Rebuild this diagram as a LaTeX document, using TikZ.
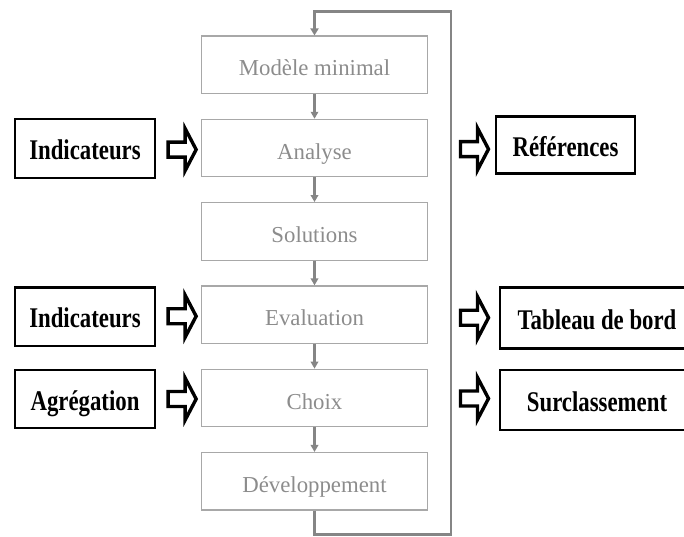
\documentclass[tikz,border=0pt]{standalone}
\usepackage{fontspec}
\setmainfont{Liberation Serif}
\usepackage{graphicx}
\usetikzlibrary{arrows.meta,calc}
\definecolor{boxgray}{HTML}{A8A8A8}
\definecolor{txtgray}{HTML}{8C8C8C}
\definecolor{linegray}{HTML}{858585}
\newcommand\sidetxt[1]{\scalebox{0.8}[1]{#1}}
\begin{document}
\begin{tikzpicture}[x=1pt,y=-1pt,
  stepbox/.style={draw=boxgray, line width=1.2pt, minimum width=226pt, minimum height=57.5pt,
    inner sep=0pt, text height=22pt, text depth=0pt, text=txtgray,
    font=\fontsize{22.8}{24}\selectfont},
  sidebox/.style={draw=black, line width=2.3pt, minimum height=58.5pt, inner sep=0pt,
    text height=22pt, text depth=0pt, font=\fontsize{28.5}{30}\selectfont\bfseries},
  flow/.style={draw=linegray, line width=2.2pt, -{Triangle[length=7pt,width=7.5pt]}},
  loopline/.style={draw=linegray, line width=2.8pt, line join=miter},
  harrow/.pic={\draw[line width=3.4pt, line join=miter, fill=white]
     (0,-7.5) -- (17,-7.5) -- (17,-21) -- (28,0) -- (17,21) -- (17,7.5) -- (0,7.5) -- cycle;}
]
\useasboundingbox (0,0) rectangle (684,536);

% central steps
\node[stepbox] (m1) at (314.5,64.8) {Modèle minimal};
\node[stepbox] (m2) at (314.5,148.1) {Analyse};
\node[stepbox] (m3) at (314.5,231.4) {Solutions};
\node[stepbox] (m4) at (314.5,314.7) {Evaluation};
\node[stepbox] (m5) at (314.5,398.0) {Choix};
\node[stepbox] (m6) at (314.5,481.3) {Développement};

% left boxes
\node[sidebox, minimum width=140pt] (l1) at (85,148.5) {\sidetxt{Indicateurs}};
\node[sidebox, minimum width=140pt] (l2) at (85,316.7) {\sidetxt{Indicateurs}};
\node[sidebox, minimum width=140pt] (l3) at (85,399) {\sidetxt{Agrégation}};

% right boxes
\node[sidebox, minimum width=138.5pt, minimum height=57pt] (r1) at (565.5,145) {\sidetxt{Références}};
\node[sidebox, minimum width=194pt, minimum height=61pt] (r2) at (597,318) {\sidetxt{Tableau de bord}};
\node[sidebox, minimum width=194pt, minimum height=60pt] (r3) at (597,400) {\sidetxt{Surclassement}};

% flow arrows
\draw[flow] (m1) -- (m2);
\draw[flow] (m2) -- (m3);
\draw[flow] (m3) -- (m4);
\draw[flow] (m4) -- (m5);
\draw[flow] (m5) -- (m6);

% loop
\coordinate (lb) at (451,534.3);
\coordinate (lt) at (451,11.5);
\draw[loopline, -{Triangle[length=7pt,width=8pt]}] (m6.south) |- (lb) -- (lt) -| (m1.north);

% hollow arrows
\pic at ($(m2.center -| l1.east)+(12,1.5)$) {harrow};
\pic at ($(m4.center -| l2.east)+(12,1.5)$) {harrow};
\pic at ($(m5.center -| l3.east)+(12,1)$) {harrow};
\pic at ($(m2.center -| lt)+(9.5,1)$) {harrow};
\pic at ($(m4.center -| lt)+(9.5,3)$) {harrow};
\pic at ($(m5.center -| lt)+(9.5,0.5)$) {harrow};
\end{tikzpicture}
\end{document}
